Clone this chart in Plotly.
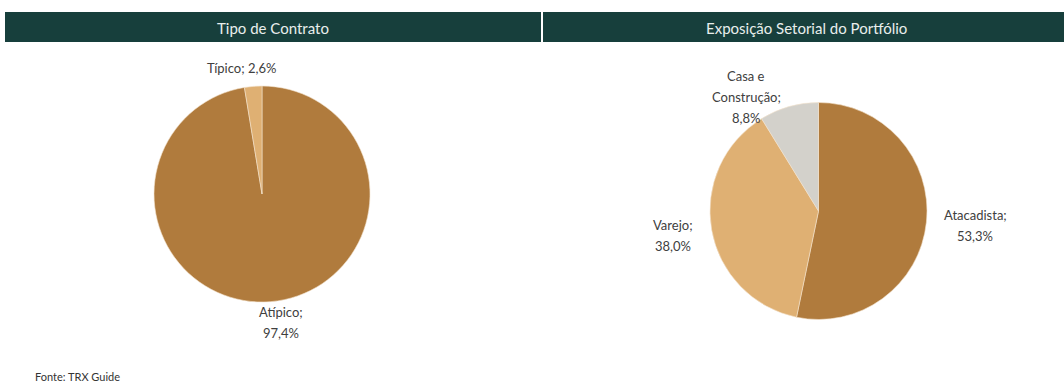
import plotly.graph_objects as go

W, H = 1064, 382

# ---- data ----
contract_labels = ["Atípico", "Típico"]
contract_values = [97.4, 2.6]
sector_labels = ["Atacadista", "Varejo", "Casa e Construção"]
sector_values = [53.3, 38.0, 8.8]
titles = ["Tipo de Contrato", "Exposição Setorial do Portfólio"]
source_text = "Fonte: TRX Guide"

dark = "#b07b3d"
light = "#dfb073"
grey = "#d3d1cb"
header_col = "#173f3c"
text_col = "#404040"
FONT = "Lato"


def pct(v):
    return f"{v:.1f}".replace(".", ",") + "%"


def px(x):
    return x / W


def py(y):
    return 1 - y / H


fig = go.Figure()
fig.add_trace(go.Pie(
    labels=contract_labels, values=contract_values,
    marker=dict(colors=[dark, light], line=dict(color="#f3e3cc", width=0.6)),
    sort=False, direction="clockwise", rotation=0, textinfo="none",
    hoverinfo="label+percent", showlegend=False,
    domain=dict(x=[px(154), px(370)], y=[py(302), py(86)]),
))
fig.add_trace(go.Pie(
    labels=sector_labels, values=sector_values,
    marker=dict(colors=[dark, light, grey], line=dict(color="#f3e3cc", width=0.6)),
    sort=False, direction="clockwise", rotation=0, textinfo="none",
    hoverinfo="label+percent", showlegend=False,
    domain=dict(x=[px(710), px(927)], y=[py(320), py(102)]),
))

shapes = [
    dict(type="rect", xref="paper", yref="paper", x0=px(5), x1=px(541),
         y0=py(42), y1=py(12), fillcolor=header_col, line=dict(width=0), layer="below"),
    dict(type="rect", xref="paper", yref="paper", x0=px(543), x1=px(1064),
         y0=py(42), y1=py(12), fillcolor=header_col, line=dict(width=0), layer="below"),
]

annotations = []
annotations.append(dict(text=titles[0], x=px(273), y=py(28), xref="paper", yref="paper",
                        showarrow=False, xanchor="center", yanchor="middle",
                        font=dict(family=FONT, size=15, color="#e9eeec")))
annotations.append(dict(text=titles[1], x=px(806), y=py(28), xref="paper", yref="paper",
                        showarrow=False, xanchor="center", yanchor="middle",
                        font=dict(family=FONT, size=15, color="#e9eeec")))

# label lines built from data
label_lines = [
    ([f"{contract_labels[1]}; {pct(contract_values[1])}"], 241, 68),
    ([f"{contract_labels[0]};", pct(contract_values[0])], 281, 312),
    ([f"{sector_labels[0]};", pct(sector_values[0])], 975, 215),
    ([f"{sector_labels[1]};", pct(sector_values[1])], 673, 225),
    (["Casa e", "Construção;", pct(sector_values[2])], 746, 76),
]
LINE = 21
for lines, cx, cy in label_lines:
    for i, ln in enumerate(lines):
        annotations.append(dict(text=ln, x=px(cx), y=py(cy + i * LINE), xref="paper", yref="paper",
                                showarrow=False, xanchor="center", yanchor="middle",
                                font=dict(family=FONT, size=13, color=text_col)))

annotations.append(dict(text=source_text, x=px(33), y=py(376), xref="paper", yref="paper",
                        showarrow=False, xanchor="left", yanchor="middle",
                        font=dict(family=FONT, size=11, color="#333333")))

fig.update_layout(
    width=W, height=H, margin=dict(l=0, r=0, t=0, b=0),
    paper_bgcolor="white", plot_bgcolor="white",
    shapes=shapes, annotations=annotations,
)

fig.write_html("out.html")
